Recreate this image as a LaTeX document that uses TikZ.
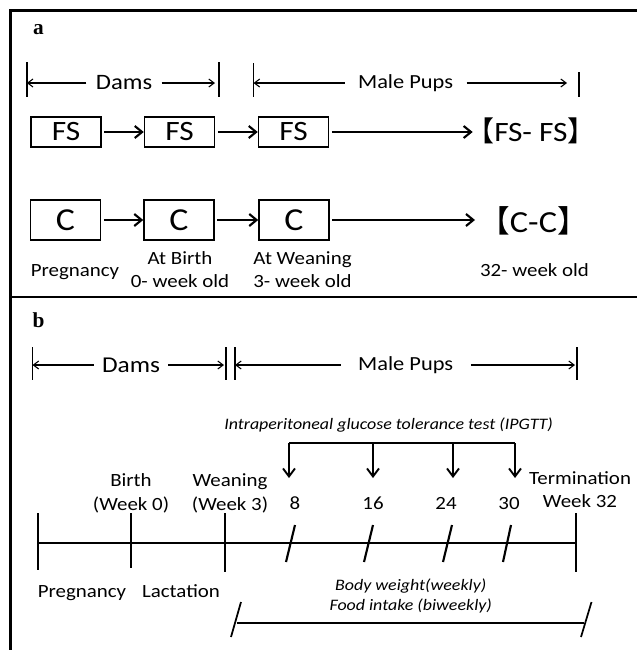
\documentclass[tikz,border=0pt]{standalone}
\usepackage{fontspec}
\setmainfont{Carlito}[FakeStretch=1.12]
\newfontfamily\cjk{Noto Sans CJK SC}
\newfontfamily\lblfont{Liberation Serif}
\usetikzlibrary{arrows.meta}
\begin{document}
\begin{tikzpicture}[x=0.75pt,y=-0.75pt,
  frame/.style={line width=2.2pt,line join=miter,line cap=rect},
  tick/.style={line width=1.1pt},
  thinarr/.style={line width=0.8pt,-{Straight Barb[length=4pt,width=6pt,line width=0.8pt]}},
  boxarr/.style={line width=1.9pt,-{Straight Barb[length=5.5pt,width=9pt,line width=1.6pt]}},
  downarr/.style={line width=1.4pt,-{Straight Barb[length=6pt,width=9pt,line width=1.4pt]}},
  stepbox/.style={draw,line width=1.1pt,minimum width=52.5pt,inner sep=0pt},
  fsbox/.style={stepbox,minimum height=22.5pt,font=\fontsize{21}{23}\selectfont},
  cbox/.style={stepbox,minimum height=30pt,font=\fontsize{24}{26}\selectfont},
  span/.style={inner sep=0pt},
  lab/.style={font=\fontsize{14}{16}\selectfont,inner sep=0pt,align=center},
  one/.style={lab,text height=10pt,text depth=3pt},
  tl/.style={line width=1.6pt},
  ital/.style={font=\fontsize{12}{14}\selectfont\itshape,inner sep=0pt,align=center},
  panel/.style={font=\lblfont\bfseries\fontsize{16}{18}\selectfont,inner sep=0pt}]
\useasboundingbox (0,0) rectangle (636,650);
% frame
\draw[frame] (636,10.5) -- (10.5,10.5) -- (10.5,650);
\draw[frame] (10.5,297) -- (636,297);
% ---------------- panel a
\node[panel] (pa) at (38.5,30) {a};
\coordinate (ta1) at (26.8,62); \coordinate (ta1b) at (26.8,97);
\coordinate (ta2) at (219,62);  \coordinate (ta2b) at (219,97);
\coordinate (ta3) at (253.5,63); \coordinate (ta3b) at (253.5,97);
\coordinate (ta4) at (579,72);  \coordinate (ta4b) at (579,97);
\draw[tick] (ta1) -- (ta1b); \draw[tick] (ta2) -- (ta2b);
\draw[tick] (ta3) -- (ta3b); \draw[tick] (ta4) -- (ta4b);
\node[span,inner xsep=7pt,font=\fontsize{16.5}{18}\selectfont] (dama) at (124,83) {Dams};
\node[span,inner xsep=10pt,font=\fontsize{15}{17}\selectfont] (pupa) at (405.6,83) {Male Pups};
\draw[thinarr] (dama.west) -- (dama.west -| ta1);
\draw[thinarr,shorten >=3pt] (dama.east) -- (dama.east -| ta2);
\draw[thinarr] (pupa.west) -- (pupa.west -| ta3);
\draw[thinarr,shorten >=9pt] (pupa.east) -- (pupa.east -| ta4);
% FS row
\node[fsbox] (f1) at (66,132) {FS};
\node[fsbox] (f2) at (179.5,132) {FS};
\node[fsbox] (f3) at (293.5,132) {FS};
\node[inner sep=0pt,anchor=west,font=\fontsize{21}{23}\selectfont] (fsfs) at (466,131) {{\cjk 【}FS- FS{\cjk 】}};
\draw[boxarr,shorten <=2pt] (f1) -- (f2);
\draw[boxarr,shorten <=2pt] (f2) -- (f3);
\draw[boxarr,shorten <=2pt] (f3.east) -- ([xshift=5pt]fsfs.west |- f3.east);
% C row
\node[cbox] (c1) at (65.5,220) {C};
\node[cbox] (c2) at (179,220) {C};
\node[cbox] (c3) at (294,220) {C};
\node[inner sep=0pt,anchor=west,font=\fontsize{23}{25}\selectfont] (cc) at (479,221) {{\cjk 【}C-C{\cjk 】}};
\draw[boxarr,shorten <=2pt] (c1) -- (c2);
\draw[boxarr,shorten <=2pt] (c2) -- (c3);
\draw[boxarr,shorten <=2pt] (c3.east) -- ([xshift=-3pt]cc.west |- c3.east);
% labels a
\node[one] (la1) at (75,272) {Pregnancy};
\node[lab] (la2) at (180,269.5) {At Birth\\[1pt]0- week old};
\node[lab] (la3) at (302.5,269.5) {At Weaning\\[1pt]3- week old};
\node[one] (la4) at (534.5,272) {32- week old};
% ---------------- panel b
\node[panel] (pb) at (38.5,320) {b};
\coordinate (tb1) at (32.5,347); \coordinate (tb1b) at (32.5,380);
\coordinate (tb2) at (226,347);  \coordinate (tb2b) at (226,380);
\coordinate (tb3) at (235,347);  \coordinate (tb3b) at (235,380);
\coordinate (tb4) at (577,347);  \coordinate (tb4b) at (577,380);
\draw[tick] (tb1) -- (tb1b); \draw[tick] (tb2) -- (tb2b);
\draw[tick] (tb3) -- (tb3b); \draw[tick] (tb4) -- (tb4b);
\node[span,inner xsep=6pt,font=\fontsize{17}{19}\selectfont] (damb) at (131,365) {Dams};
\node[span,inner xsep=13pt,font=\fontsize{15}{17}\selectfont] (pupb) at (405.7,365) {Male Pups};
\draw[thinarr] (damb.west) -- (damb.west -| tb1);
\draw[thinarr,shorten >=1.5pt] (damb.east) -- (damb.east -| tb2);
\draw[thinarr] (pupb.west) -- (pupb.west -| tb3);
\draw[thinarr,shorten >=1.5pt] (pupb.east) -- (pupb.east -| tb4);
% IPGTT
\node[ital] (ipg) at (388.6,425) {Intraperitoneal glucose tolerance test (IPGTT)};
\coordinate (i1) at (289,443); \coordinate (i2) at (373,443);
\coordinate (i3) at (453,443); \coordinate (i4) at (515,443);
\coordinate (j1) at (289,478); \coordinate (j2) at (373,478);
\coordinate (j3) at (453,478); \coordinate (j4) at (515,478);
\draw[line width=1.4pt] (i1) -- (i4);
\draw[downarr] (i1) -- (j1); \draw[downarr] (i2) -- (j2);
\draw[downarr] (i3) -- (j3); \draw[downarr] (i4) -- (j4);
% timeline labels
\node[lab] (lb1) at (131,493.5) {Birth\\[2pt](Week 0)};
\node[lab] (lb2) at (230,493.5) {Weaning\\[2pt](Week 3)};
\node[one] (w8) at (295,505) {8};
\node[one] (w16) at (373,505) {16};
\node[one] (w24) at (446,505) {24};
\node[one] (w30) at (509,505) {30};
\node[lab] (term) at (580,489.5) {Termination\\[1pt]Week 32};
% timeline
\coordinate (t0) at (37.7,543); \coordinate (t1) at (576,543);
\draw[tl] (t0) -- (t1);
\draw[tl] (37.7,513) -- (37.7,570);
\draw[tl] (130.6,513) -- (130.6,568);
\draw[tl] (225,513) -- (225,572);
\draw[tl] (576,513) -- (576,572);
\draw[tl] (295,525) -- (286,562);
\draw[tl] (373,525) -- (364,562);
\draw[tl] (452,525) -- (443,562);
\draw[tl] (511,525) -- (503,562);
% below
\node[one] (lp) at (82,593) {Pregnancy};
\node[one] (ll) at (181,593) {Lactation};
\node[ital] (bw) at (410.7,596) {Body weight(weekly)\\[1pt]Food intake (biweekly)};
\coordinate (bl) at (236.5,623); \coordinate (br) at (584,623);
\draw[line width=1.3pt] (bl) -- (br);
\draw[line width=1.3pt] (241,602) -- (231,637);
\draw[line width=1.3pt] (591.5,602) -- (581,637);
\end{tikzpicture}
\end{document}
